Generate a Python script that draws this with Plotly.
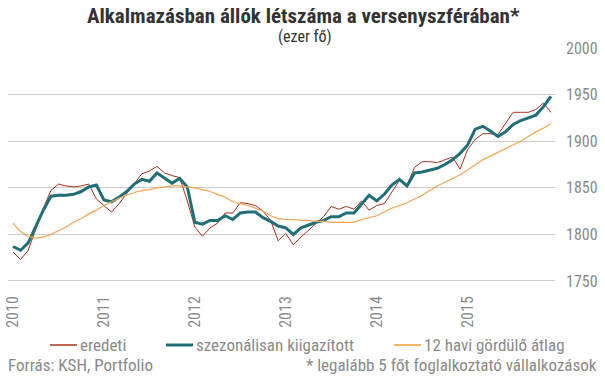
import plotly.graph_objects as go

# Monthly data, Jan 2010 - Dec 2015 (72 points), thousand persons
eredeti = [1781, 1773, 1783, 1806, 1828, 1847, 1854, 1852, 1851, 1852, 1854, 1838,
           1831, 1824, 1833, 1844, 1855, 1865, 1868, 1873, 1866, 1863, 1861, 1836,
           1808, 1798, 1807, 1812, 1823, 1823, 1834, 1833, 1831, 1825, 1815, 1793,
           1801, 1789, 1797, 1805, 1812, 1819, 1830, 1827, 1830, 1827, 1836, 1826,
           1831, 1833, 1846, 1858, 1853, 1872, 1878, 1878, 1877, 1880, 1883, 1870,
           1891, 1902, 1908, 1908, 1907, 1919, 1931, 1931, 1931, 1934, 1941, 1931]

szezonalis = [1787, 1783, 1791, 1808, 1826, 1841, 1842, 1842, 1843, 1846, 1851, 1853,
              1837, 1835, 1840, 1846, 1854, 1859, 1857, 1866, 1860, 1855, 1860, 1851,
              1813, 1811, 1815, 1815, 1820, 1816, 1823, 1824, 1824, 1818, 1814, 1809,
              1807, 1800, 1807, 1810, 1813, 1815, 1819, 1819, 1823, 1823, 1833, 1842,
              1836, 1843, 1853, 1859, 1852, 1866, 1867, 1869, 1871, 1875, 1880, 1887,
              1896, 1913, 1916, 1911, 1905, 1910, 1918, 1922, 1925, 1928, 1937, 1948]

atlag = [1812, 1803, 1798, 1796, 1797, 1800, 1804, 1808, 1813, 1817, 1822, 1826,
         1831, 1835, 1839, 1842, 1845, 1847, 1848, 1850, 1851, 1852, 1852, 1851,
         1850, 1848, 1846, 1843, 1840, 1835, 1833, 1831, 1828, 1825, 1820, 1817,
         1816, 1816, 1815, 1815, 1814, 1814, 1813, 1813, 1813, 1813, 1816, 1818,
         1820, 1824, 1828, 1831, 1834, 1838, 1842, 1847, 1852, 1856, 1860, 1864,
         1869, 1875, 1880, 1884, 1888, 1892, 1896, 1900, 1905, 1910, 1914, 1919]

months = list(range(len(eredeti)))
year_labels = ["2010", "2011", "2012", "2013", "2014", "2015"]
year_tick_pos = [0, 12, 24, 36, 48, 60]
y_ticks = [1750, 1800, 1850, 1900, 1950, 2000]

series_names = ["eredeti", "szezonálisan kiigazított", "12 havi gördülő átlag"]
series_colors = ["#a8321f", "#1f6e78", "#f7a450"]
series_widths = [1, 3, 1.2]
series_values = [eredeti, szezonalis, atlag]

FONT = "Roboto Condensed, Liberation Sans Narrow, DejaVu Sans Condensed, Roboto, sans-serif"
GRAY = "#8a8a8a"

W, H = 605, 378
pl, pr, pt, pb = 8, 50, 48, 97
pw, ph = W - pl - pr, H - pt - pb
def px_x(x):
    return (x - pl) / pw
def px_y(y):
    return (H - pb - y) / ph

fig = go.Figure()
for name, vals, col, wd in zip(series_names, series_values, series_colors, series_widths):
    fig.add_trace(go.Scatter(x=months, y=vals, mode="lines", name=name,
                             line=dict(color=col, width=wd), showlegend=False))

annotations = [
    dict(text="<b>Alkalmazásban állók létszáma a versenyszférában*</b>",
         x=px_x(303), y=px_y(16), xanchor="center", yanchor="middle",
         font=dict(size=21, color="#333333", family=FONT)),
    dict(text="(ezer fő)", x=px_x(305), y=px_y(37), xanchor="center", yanchor="middle",
         font=dict(size=16, color="#333333", family=FONT)),
    dict(text="Forrás: KSH, Portfolio", x=px_x(6), y=px_y(365), xanchor="left",
         yanchor="middle", font=dict(size=17, color=GRAY, family=FONT)),
    dict(text="* legalább 5 főt foglalkoztató vállalkozások", x=px_x(599), y=px_y(365),
         xanchor="right", yanchor="middle", font=dict(size=17, color=GRAY, family=FONT)),
]

# manual legend
legend_x = [50, 166, 394]
legend_y = 345
shapes = []
for lx, name, col, wd in zip(legend_x, series_names, series_colors, series_widths):
    shapes.append(dict(type="line", xref="paper", yref="paper",
                       x0=px_x(lx), x1=px_x(lx + 27), y0=px_y(legend_y), y1=px_y(legend_y),
                       line=dict(color=col, width=min(wd + 0.5, 3))))
    annotations.append(dict(text=name, x=px_x(lx + 28), y=px_y(legend_y), xanchor="left",
                            yanchor="middle", font=dict(size=17, color=GRAY, family=FONT)))

for a in annotations:
    a.update(xref="paper", yref="paper", showarrow=False)

shapes.append(dict(type="line", xref="paper", yref="y", x0=0, x1=1, y0=1750, y1=1750,
                   line=dict(color="#999999", width=1)))

fig.update_layout(
    width=W, height=H,
    margin=dict(l=pl, r=pr, t=pt, b=pb, autoexpand=False),
    paper_bgcolor="white", plot_bgcolor="white",
    font=dict(family=FONT, color=GRAY, size=14),
    showlegend=False,
    xaxis=dict(range=[-0.66, 71.53], tickmode="array", tickvals=year_tick_pos,
               ticktext=year_labels, tickangle=-90, showgrid=False, zeroline=False,
               showline=False, ticks="", automargin=False, ticklabelstandoff=11,
               tickfont=dict(size=16, color=GRAY, family=FONT)),
    yaxis=dict(range=[1750, 2000], tickvals=y_ticks, side="right", showgrid=True,
               gridcolor="#cccccc", gridwidth=1, zeroline=False, showline=False, ticks="",
               ticklabelstandoff=10, automargin=False,
               tickfont=dict(size=16, color=GRAY, family=FONT)),
    annotations=annotations,
    shapes=shapes,
)

fig.write_html("out.html", config={"displayModeBar": False},
               post_script="document.body.style.margin='0';")
